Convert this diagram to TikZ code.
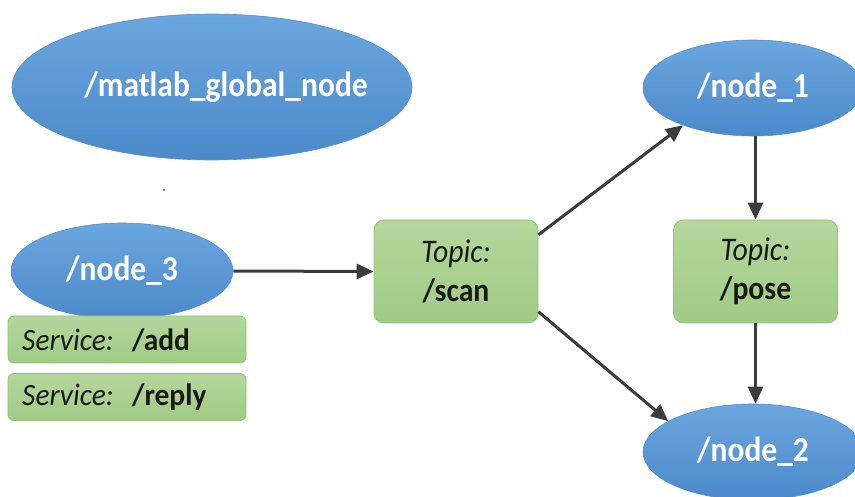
\documentclass[tikz,border=0pt]{standalone}
\usepackage{fontspec}
\usepackage{graphicx}
\setmainfont{Carlito}
\usetikzlibrary{shapes.geometric,arrows.meta}
\definecolor{bluetop}{HTML}{6BA7DE}
\definecolor{bluebot}{HTML}{4B89CA}
\definecolor{blueedge}{HTML}{5590CC}
\definecolor{greentop}{HTML}{B4D79C}
\definecolor{greenbot}{HTML}{A0CB84}
\definecolor{greenedge}{HTML}{94BF7C}
\definecolor{arrowgray}{HTML}{3C3C3C}
\newcommand\hsq[1]{\scalebox{0.9}[1]{#1}}
\newcommand\ssq[1]{\scalebox{0.95}[1]{#1}}
\tikzset{
  rosnode/.style={ellipse, inner sep=0pt, draw=blueedge, line width=0.6pt,
    top color=bluetop, bottom color=bluebot, text=white,
    font=\fontsize{35}{37}\selectfont\bfseries},
  topicbox/.style={rectangle, rounded corners=10pt, inner sep=0pt, draw=greenedge,
    line width=0.8pt, top color=greentop, bottom color=greenbot, text=black!90,
    minimum width=164pt, minimum height=103pt, align=center,
    font=\fontsize{33}{39}\selectfont},
  servbox/.style={rectangle, rounded corners=6pt, inner sep=0pt, draw=greenedge,
    line width=0.8pt, top color=greentop, bottom color=greenbot,
    minimum width=238pt, minimum height=47pt},
  servtext/.style={anchor=west, inner sep=0pt, text=black!90,
    font=\fontsize{31}{33}\selectfont},
  flow/.style={draw=arrowgray, line width=3pt,
    -{Triangle[length=17pt,width=15pt]}}
}
\begin{document}
\begin{tikzpicture}[x=1pt,y=-1pt]
\useasboundingbox[fill=white] (0,0) rectangle (855,497);
\node[rosnode, minimum width=400pt, minimum height=146pt] (mgn) at (212,87) {\makebox[0pt]{\hspace{28pt}\hsq{/matlab\_global\_node}}};
\node[rosnode, minimum width=222pt, minimum height=96pt] (n3) at (122,271) {\hsq{/node\_3}};
\node[rosnode, minimum width=220pt, minimum height=96pt] (n1) at (753,88) {\hsq{/node\_1}};
\node[rosnode, minimum width=220pt, minimum height=96pt] (n2) at (753,452) {\hsq{/node\_2}};
\node[topicbox] (scan) at (456,271.5) {\hsq{\textit{Topic:}}\\\hsq{\textbf{/scan}}};
\node[topicbox] (pose) at (755.5,271.5) {\hsq{\textit{Topic:}}\\\hsq{\textbf{/pose}}};
\node[servbox] (add) at (127,339.5) {};
\node[servtext] (addt) at (22,340) {\ssq{\textit{Service:}\hspace{19pt}\textbf{/add}}};
\node[servbox] (reply) at (127,397) {};
\node[servtext] (replyt) at (22,397) {\ssq{\textit{Service:}\hspace{19pt}\textbf{/reply}}};
\fill[black!70] (164,190) circle (1pt);
\draw[flow] (n3.east) -- (scan.west);
\draw[flow] (scan.24) -- (n1.208);
\draw[flow] (scan.-26) -- (n2.160);
\draw[flow] (pose.north |- n1.south) -- (pose.north);
\draw[flow] (pose.south) -- (pose.south |- n2.north);
\end{tikzpicture}
\end{document}
